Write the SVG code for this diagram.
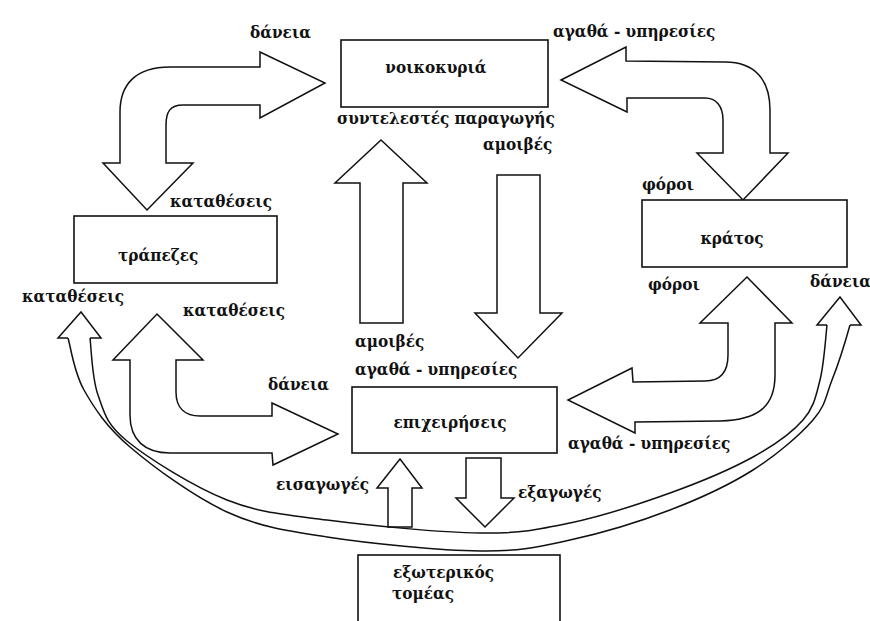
<svg xmlns="http://www.w3.org/2000/svg" width="870" height="621" viewBox="0 0 870 621">
<style>
.bg{fill:#ffffff}
.box{fill:#ffffff;stroke:#111;stroke-width:1.6}
.arr{fill:#ffffff;stroke:#111;stroke-width:1.5;stroke-linejoin:miter}
.ln{fill:none;stroke:#111;stroke-width:1.5}
.t{font-family:"DejaVu Serif Condensed","DejaVu Serif",serif;font-stretch:condensed;font-weight:bold;font-size:17px;fill:#111}
</style>
<rect class="bg" x="0" y="0" width="870" height="621"/>
<g id="connectors">
  <path id="c-banks-households" class="arr" d="M147,210 L193,163 L166,163 L166,125 C166,112 170,105 183,105 L260,105 L260,118 L325,83 L260,52 L260,67 L170,67 C135,67 120,85 120,112 L120,163 L103,163 Z"/>
  <path id="c-state-households" class="arr" d="M561,80 L626,47 L626,61 L725,62 C755,62 770,80 770,110 L770,153 L788,153 L743,200 L697,153 L723,153 L723,120 C723,106 716,98 705,98 L627,98 L627,112 Z"/>
  <path id="c-firms-households-up" class="arr" d="M381,140 L427,183 L403,183 L403,323 L360,323 L360,183 L335,183 Z"/>
  <path id="c-households-firms-down" class="arr" d="M497,175 L540,175 L540,313 L562,313 L518,358 L475,313 L497,313 Z"/>
  <path id="c-firms-state" class="arr" d="M747,277 L792,323 L775,323 L775,375 C775,405 760,420 720,421 L635,422 L635,433 L568,400 L632,368 L633,382 L705,381 C720,381 728,372 728,355 L728,323 L700,323 Z"/>
  <path id="c-banks-firms" class="arr" d="M157,314 L203,360 L176,360 L176,392 C176,408 185,416 200,416 L272,416 L272,403 L338,434 L273,465 L272,453 L170,453 C145,453 130,440 130,415 L130,360 L113,360 Z"/>
  <path id="c-imports" class="arr" d="M400,459 L422,488 L412,488 L412,527 L388,527 L388,488 L377,488 Z"/>
  <path id="c-exports" class="arr" d="M466,458 L501,458 L501,498 L514,498 L485,527 L456,498 L466,498 Z"/>
  <g id="c-foreign-loop">
    <path class="ln" d="M90,338 C91.3,347.5 91.8,377.8 98,395 C104.2,412.2 105.5,423.5 127,441 C148.5,458.5 193.7,486.8 227,500 C260.3,513.2 284.8,514.5 327,520 C369.2,525.5 439.5,532.5 480,533 C520.5,533.5 538.3,529.7 570,523 C601.7,516.3 639.5,504 670,493 C700.5,482 730.8,469.2 753,457 C775.2,444.8 791.8,432.8 803,420 C814.2,407.2 816,395.5 820,380 C824,364.5 825.8,335.8 827,325"/>
    <path class="ln" d="M68,338 C70.7,346.7 73.7,371.8 84,390 C94.3,408.2 106.2,426.7 130,447 C153.8,467.3 194.2,497 227,512 C259.8,527 284.8,530.5 327,537 C369.2,543.5 439.5,550.5 480,551 C520.5,551.5 538.3,546.8 570,540 C601.7,533.2 639.5,521.7 670,510 C700.5,498.3 729.2,485 753,470 C776.8,455 799.8,435 813,420 C826.2,405 825.8,395.5 832,380 C838.2,364.5 847,335.8 850,325"/>
    <path class="arr" d="M68,338 L58,338 L81,312 L101,338 L90,338"/>
    <path class="arr" d="M827,325 L817,325 L840,297 L861,325 L850,325"/>
  </g>
</g>
<g id="n-households">
  <rect class="box" x="341" y="40" width="207" height="67"/>
  <text class="t" x="436" y="73" text-anchor="middle">νοικοκυριά</text>
</g>
<g id="n-banks">
  <rect class="box" x="74" y="216" width="203" height="67"/>
  <text class="t" x="118" y="261">τράπεζες</text>
</g>
<g id="n-state">
  <rect class="box" x="642" y="200" width="205" height="67"/>
  <text class="t" x="732" y="244" text-anchor="middle">κράτος</text>
</g>
<g id="n-firms">
  <rect class="box" x="352" y="387" width="205" height="66"/>
  <text class="t" x="450" y="428" text-anchor="middle">επιχειρήσεις</text>
</g>
<g id="n-foreign">
  <rect class="box" x="358" y="555" width="202" height="72"/>
  <text class="t" x="393" y="578">εξωτερικός</text>
  <text class="t" x="392" y="599">τομέας</text>
</g>
<g id="labels">
  <text class="t" x="250" y="38">δάνεια</text>
  <text class="t" x="553" y="37">αγαθά - υπηρεσίες</text>
  <text class="t" x="337" y="124">συντελεστές παραγωγής</text>
  <text class="t" x="483" y="150">αμοιβές</text>
  <text class="t" x="170" y="207">καταθέσεις</text>
  <text class="t" x="642" y="190">φόροι</text>
  <text class="t" x="22" y="302">καταθέσεις</text>
  <text class="t" x="183" y="316">καταθέσεις</text>
  <text class="t" x="648" y="290">φόροι</text>
  <text class="t" x="810" y="287">δάνεια</text>
  <text class="t" x="355" y="347">αμοιβές</text>
  <text class="t" x="355" y="375">αγαθά - υπηρεσίες</text>
  <text class="t" x="268" y="390">δάνεια</text>
  <text class="t" x="568" y="449">αγαθά - υπηρεσίες</text>
  <text class="t" x="276" y="490">εισαγωγές</text>
  <text class="t" x="518" y="498">εξαγωγές</text>
</g>
</svg>
